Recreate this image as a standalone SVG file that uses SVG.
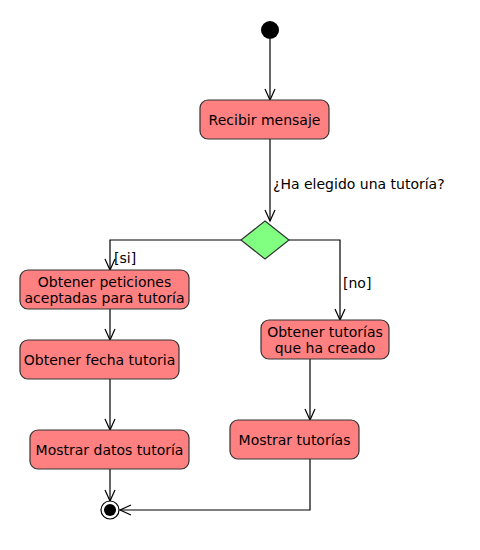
<svg xmlns="http://www.w3.org/2000/svg" width="480" height="550" viewBox="0 0 480 550">
<defs>
<style>
.act{fill:#FF8080;stroke:#333;stroke-width:1.2}
.t{font-family:"DejaVu Sans",sans-serif;font-size:14px;fill:#000}
.c{text-anchor:middle}
.e{fill:none;stroke:#000;stroke-width:1.2}
</style>
<marker id="ah" markerUnits="userSpaceOnUse" markerWidth="14" markerHeight="14" viewBox="-12 -6 14 12" refX="0" refY="0" orient="auto">
<path d="M-11,-5 L0,0 L-11,5" fill="none" stroke="#000" stroke-width="1.2"/>
</marker>
</defs>
<rect width="480" height="550" fill="#fff"/>
<g id="connectors">
<path class="e" d="M270,39 V100" marker-end="url(#ah)"/>
<path class="e" d="M270,139 V221" marker-end="url(#ah)"/>
<text class="t" x="273" y="189">¿Ha elegido una tutoría?</text>
<path class="e" d="M241,240 H110 V270" marker-end="url(#ah)"/>
<text class="t" x="114" y="263">[si]</text>
<path class="e" d="M289,240 H340 V320" marker-end="url(#ah)"/>
<text class="t" x="343" y="288">[no]</text>
<path class="e" d="M110,309 V340" marker-end="url(#ah)"/>
<path class="e" d="M110,379 V430" marker-end="url(#ah)"/>
<path class="e" d="M110,469 V501" marker-end="url(#ah)"/>
<path class="e" d="M310,359 V420" marker-end="url(#ah)"/>
<path class="e" d="M310,459 V510 H120" marker-end="url(#ah)"/>
</g>
<g id="start"><circle cx="270" cy="30" r="9" fill="#000"/></g>
<g id="recibir"><rect class="act" x="200" y="100" width="129" height="39" rx="8"/><text class="t c" x="264.5" y="125">Recibir mensaje</text></g>
<g id="decision"><path d="M265,221 L289,240 L265,259 L241,240 Z" fill="#80FF80" stroke="#333" stroke-width="1.2"/></g>
<g id="peticiones"><rect class="act" x="20" y="270" width="169" height="39" rx="8"/><text class="t c" x="104.5" y="287">Obtener peticiones</text><text class="t c" x="104.5" y="303">aceptadas para tutoría</text></g>
<g id="fecha"><rect class="act" x="20" y="340" width="159" height="39" rx="8"/><text class="t c" x="99.5" y="365">Obtener fecha tutoria</text></g>
<g id="mostrarDatos"><rect class="act" x="30" y="430" width="159" height="39" rx="8"/><text class="t c" x="109.5" y="455">Mostrar datos tutoría</text></g>
<g id="tutoriasCreado"><rect class="act" x="261" y="320" width="128" height="39" rx="8"/><text class="t c" x="325" y="337">Obtener tutorías</text><text class="t c" x="325" y="353">que ha creado</text></g>
<g id="mostrarTutorias"><rect class="act" x="230" y="420" width="129" height="39" rx="8"/><text class="t c" x="294.5" y="445">Mostrar tutorías</text></g>
<g id="end"><circle cx="110" cy="510" r="9" fill="#fff" stroke="#000" stroke-width="1.2"/><circle cx="110" cy="510" r="6" fill="#000"/></g>
</svg>
